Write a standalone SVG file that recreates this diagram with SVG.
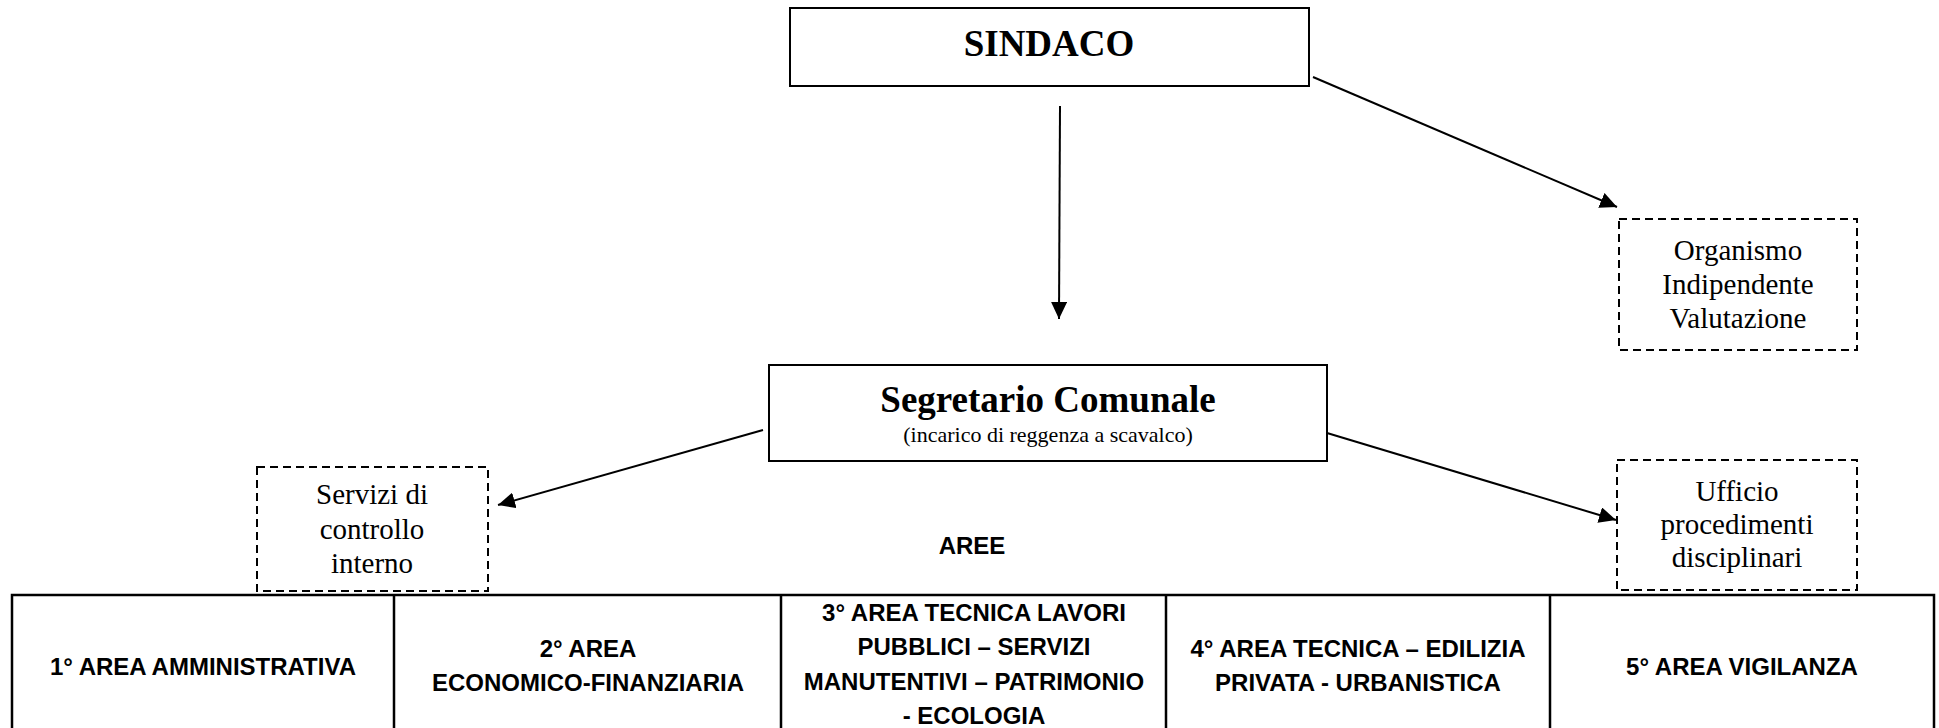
<svg xmlns="http://www.w3.org/2000/svg" width="1939" height="728" viewBox="0 0 1939 728">
<style>
.box{fill:#fff;stroke:#000;stroke-width:2}
.dash{fill:#fff;stroke:#000;stroke-width:2;stroke-dasharray:8 5}
.ser{font-family:"Liberation Serif","Times New Roman",serif;fill:#000;text-anchor:middle}
.sans{font-family:"Liberation Sans",Arial,sans-serif;font-weight:bold;fill:#000;text-anchor:middle;font-size:24px}
.cell{fill:none;stroke:#000;stroke-width:2.5}
.conn{stroke:#000;stroke-width:2;fill:none;marker-end:url(#ah)}
</style>
<defs>
<marker id="ah" markerUnits="userSpaceOnUse" markerWidth="18" markerHeight="16" refX="17" refY="8" orient="auto">
<path d="M0,0 L17,8 L0,16 z" fill="#000"/>
</marker>
</defs>
<rect width="1939" height="728" fill="#fff"/>
<g id="sindaco">
<rect class="box" x="790" y="8" width="519" height="78"/>
<text class="ser" x="1049" y="56" font-size="37" font-weight="bold">SINDACO</text>
</g>
<g id="oiv">
<rect class="dash" x="1619" y="219" width="238" height="131"/>
<text class="ser" font-size="29"><tspan x="1738" y="260">Organismo</tspan><tspan x="1738" y="294">Indipendente</tspan><tspan x="1738" y="328">Valutazione</tspan></text>
</g>
<g id="segretario">
<rect class="box" x="769" y="365" width="558" height="96"/>
<text class="ser" x="1048" y="412" font-size="37" font-weight="bold">Segretario Comunale</text>
<text class="ser" x="1048" y="442" font-size="22">(incarico di reggenza a scavalco)</text>
</g>
<g id="servizi">
<rect class="dash" x="257" y="467" width="231" height="124"/>
<text class="ser" font-size="29"><tspan x="372" y="504">Servizi di</tspan><tspan x="372" y="539">controllo</tspan><tspan x="372" y="573">interno</tspan></text>
</g>
<g id="ufficio">
<rect class="dash" x="1617" y="460" width="240" height="130"/>
<text class="ser" font-size="29"><tspan x="1737" y="501">Ufficio</tspan><tspan x="1737" y="534">procedimenti</tspan><tspan x="1737" y="567">disciplinari</tspan></text>
</g>
<g id="aree-label">
<text class="sans" x="972" y="554" font-size="23">AREE</text>
</g>
<g id="aree">
<path class="cell" d="M12,730 V595 H1934 V730 M394,595 V730 M781,595 V730 M1166,595 V730 M1550,595 V730"/>
<g id="area1"><text class="sans" x="203" y="675">1° AREA AMMINISTRATIVA</text></g>
<g id="area2"><text class="sans"><tspan x="588" y="657">2° AREA</tspan><tspan x="588" y="691">ECONOMICO-FINANZIARIA</tspan></text></g>
<g id="area3"><text class="sans"><tspan x="974" y="621">3° AREA TECNICA LAVORI</tspan><tspan x="974" y="655">PUBBLICI – SERVIZI</tspan><tspan x="974" y="690">MANUTENTIVI – PATRIMONIO</tspan><tspan x="974" y="724">- ECOLOGIA</tspan></text></g>
<g id="area4"><text class="sans"><tspan x="1358" y="657">4° AREA TECNICA – EDILIZIA</tspan><tspan x="1358" y="691">PRIVATA - URBANISTICA</tspan></text></g>
<g id="area5"><text class="sans" x="1742" y="675">5° AREA VIGILANZA</text></g>
</g>
<g id="connectors">
<line class="conn" x1="1060" y1="106" x2="1059" y2="319"/>
<line class="conn" x1="1313" y1="77" x2="1617" y2="207"/>
<line class="conn" x1="763" y1="430" x2="498" y2="505"/>
<line class="conn" x1="1327" y1="433" x2="1616" y2="520"/>
</g>
</svg>
